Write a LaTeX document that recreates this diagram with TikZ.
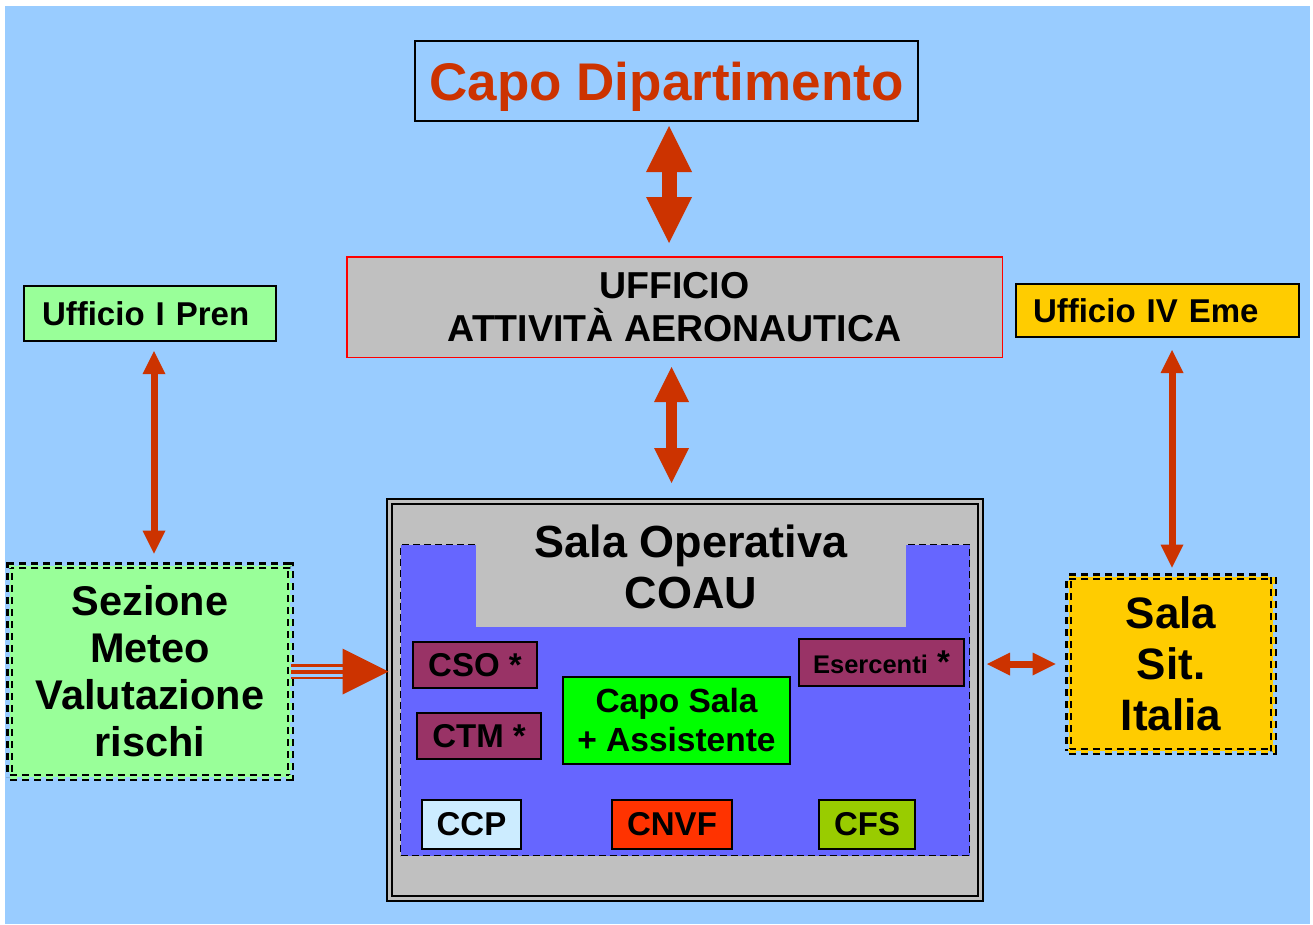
\documentclass[tikz,border=0pt]{standalone}
\usepackage{fontspec}
\setmainfont{Liberation Sans}
\usetikzlibrary{arrows.meta}
\definecolor{bgblue}{HTML}{99CCFF}
\definecolor{arrowred}{HTML}{CC3300}
\definecolor{boxgray}{HTML}{C0C0C0}
\definecolor{lightgreen}{HTML}{99FF99}
\definecolor{gold}{HTML}{FFCC00}
\definecolor{areablue}{HTML}{6666FF}
\definecolor{plum}{HTML}{993366}
\definecolor{brightgreen}{HTML}{00FF00}
\definecolor{paleblue}{HTML}{CCECFF}
\definecolor{fireorange}{HTML}{FF3300}
\definecolor{olive}{HTML}{99CC00}
\tikzset{
  box/.style={draw=black, line width=2pt, inner sep=0pt, align=center, font=\bfseries\fontsize{33}{39}\selectfont},
  dbox/.style={draw=black, line width=2.2pt, double distance=2.5pt, dash pattern=on 7pt off 5pt, inner sep=0pt, align=center},
  biarrow/.style 2 args={draw=arrowred, line width=#1, {Triangle[length=#2,width=#2,line width=0pt]}-{Triangle[length=#2,width=#2,line width=0pt]}},
  stripes/.style={draw=arrowred, line width=15pt, shorten >=46pt, postaction={draw=bgblue, line width=10pt}, postaction={draw=arrowred, line width=4pt}}
}
\begin{document}
\begin{tikzpicture}[x=1pt,y=-1pt]
    \useasboundingbox (0,0) rectangle (1313,924);
    % background
    \fill[bgblue] (5,6) rectangle (1310,924);
    % top offices
    \node[box, text=arrowred, text depth=0pt, font=\bfseries\fontsize{53}{60}\selectfont,
          minimum width=503, minimum height=80] (capo) at (666.5,81) {Capo Dipartimento};
    \node[box, draw=red, line width=1.5pt, fill=boxgray, font=\bfseries\fontsize{37.5}{43}\selectfont,
          minimum width=655.5, minimum height=100.5] (uaa) at (674.5,307) {UFFICIO\\ATTIVITÀ AERONAUTICA};
    \node[box, fill=lightgreen, font=\bfseries\fontsize{33}{38}\selectfont, align=left, text width=216,
          minimum width=252, minimum height=55] (pren) at (150,313.5) {Ufficio I Pren};
    \node[box, fill=gold, font=\bfseries\fontsize{33}{38}\selectfont, align=left, text width=249,
          minimum width=283, minimum height=53] (eme) at (1157.5,310.5) {Ufficio IV Eme};
    % side rooms
    \node[dbox, fill=lightgreen, double=lightgreen, font=\bfseries\fontsize{41.5}{47}\selectfont,
          minimum width=280.5, minimum height=211.5] (sez) at (150,671.5) {Sezione\\Meteo\\Valutazione\\rischi};
    \node[dbox, fill=gold, double=gold, font=\bfseries\fontsize{44}{51}\selectfont,
          minimum width=204.5, minimum height=174.5] (salasit) at (1171,664) {Sala\\Sit.\\Italia};
    % operations room
    \node[draw=black, line width=2pt, double=boxgray, double distance=3pt, fill=boxgray,
          minimum width=591, minimum height=397] (sala) at (685,700) {};
    \node[draw=black, line width=1.6pt, dash pattern=on 7pt off 4pt, fill=areablue,
          minimum width=569, minimum height=311] (area) at (685,700) {};
    \node[fill=boxgray, inner sep=0pt, align=center, font=\bfseries\fontsize{45}{51}\selectfont,
          minimum width=430, minimum height=121] (title) at (691,566.5) {Sala Operativa\\COAU};
    \node[box, fill=plum, minimum width=124, minimum height=46] (cso) at (475,665) {CSO *};
    \node[box, fill=plum, minimum width=124, minimum height=46] (ctm) at (479,736) {CTM *};
    \node[box, fill=plum, minimum width=165, minimum height=47] (eserc) at (881.5,662.5)
         {{\fontsize{25.5}{30}\selectfont Esercenti} *};
    \node[box, fill=brightgreen, font=\bfseries\fontsize{33.5}{39}\selectfont,
          minimum width=227, minimum height=87] (caposala) at (676.5,720.5) {Capo Sala\\+ Assistente};
    \node[box, fill=paleblue, minimum width=99, minimum height=49] (ccp) at (471.5,824.5) {CCP};
    \node[box, fill=fireorange, minimum width=120, minimum height=49] (cnvf) at (672,824.5) {CNVF};
    \node[box, fill=olive, minimum width=96, minimum height=49] (cfs) at (867,824.5) {CFS};
    % links
    \draw[biarrow={15pt}{46pt}, shorten <=4pt, shorten >=13pt]
        ([xshift=2.5pt]capo.south) -- ([xshift=2.5pt]capo.south |- uaa.north);
    \draw[biarrow={11.5pt}{35pt}, shorten <=9pt, shorten >=17.5pt]
        ([xshift=-3pt]uaa.south) -- ([xshift=-3pt]uaa.south |- sala.north);
    \draw[biarrow={7pt}{23pt}, shorten <=9pt, shorten >=11pt]
        ([xshift=4pt]pren.south) -- ([xshift=4pt]pren.south |- sez.north);
    \draw[biarrow={7pt}{23pt}, shorten <=12pt, shorten >=8pt]
        ([xshift=1pt]salasit.north |- eme.south) -- ([xshift=1pt]salasit.north);
    \draw[biarrow={7pt}{23pt}, shorten <=5.5pt, shorten >=12pt]
        (sala.east |- salasit.west) -- (salasit.west);
    % striped input arrow
    \draw[stripes] (sez.east) -- (sala.west |- sez.east);
    \draw[arrowred, line width=1pt, -{Triangle[length=46pt,width=46pt,line width=0pt]}]
        (sez.east) -- (sala.west |- sez.east);
\end{tikzpicture}
\end{document}
